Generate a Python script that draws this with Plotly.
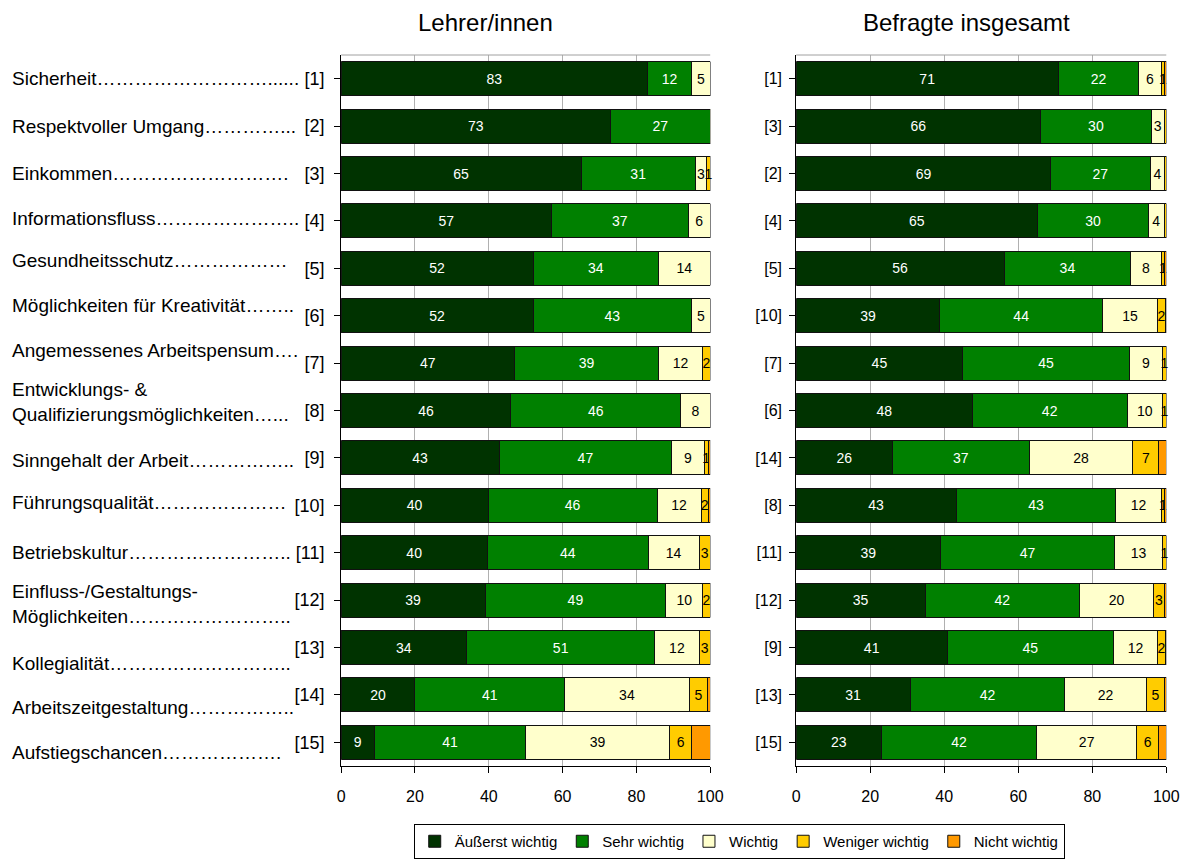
import plotly.graph_objects as go

# ---------------- data ----------------
names = [
    "Sicherheit………………………......",
    "Respektvoller Umgang…………...",
    "Einkommen……………………….",
    "Informationsfluss…………………..",
    "Gesundheitsschutz………………",
    "Möglichkeiten für Kreativität……..",
    "Angemessenes Arbeitspensum….",
    "Entwicklungs- &<br>Qualifizierungsmöglichkeiten…...",
    "Sinngehalt der Arbeit……………..",
    "Führungsqualität…………………",
    "Betriebskultur……………………..",
    "Einfluss-/Gestaltungs-<br>Möglichkeiten……………………..",
    "Kollegialität………………………..",
    "Arbeitszeitgestaltung……………..",
    "Aufstiegschancen……………….",
]
left_ranks = ["[1]", "[2]", "[3]", "[4]", "[5]", "[6]", "[7]", "[8]", "[9]", "[10]",
              "[11]", "[12]", "[13]", "[14]", "[15]"]
right_ranks = ["[1]", "[3]", "[2]", "[4]", "[5]", "[10]", "[7]", "[6]", "[14]", "[8]",
               "[11]", "[12]", "[9]", "[13]", "[15]"]

series_names = ["Äußerst wichtig", "Sehr wichtig", "Wichtig", "Weniger wichtig", "Nicht wichtig"]
colors = ["#003300", "#008000", "#FFFFCC", "#FFCC00", "#FF9900"]
text_colors = ["white", "white", "black", "black", "black"]

# Lehrer/innen (estimated underlying percentages; labels show rounded values)
l_aeusserst = [83, 73, 65, 57, 52, 52, 47, 46, 42.8, 39.8, 39.6, 39, 34, 20, 9]
l_sehr      = [12, 27, 31, 37, 34, 43, 39, 46, 46.8, 45.8, 43.6, 49, 51, 40.6, 41]
l_wichtig   = [5, 0.3, 3, 6, 14, 5, 12, 8, 8.8, 12, 13.8, 10, 12, 33.7, 39]
l_weniger   = [0, 0, 1, 0, 0, 0, 2, 0, 1, 1.9, 3, 2, 3, 5, 6]
l_nicht     = [0, 0, 0, 0, 0, 0, 0, 0, 0.6, 0.5, 0, 0, 0, 0.7, 5]

# Befragte insgesamt
r_aeusserst = [70.8, 66, 68.8, 65.2, 56.2, 38.8, 45, 47.6, 26, 43.2, 39, 34.8, 40.8, 30.8, 23]
r_sehr      = [21.8, 30, 26.8, 30, 34.2, 44, 45, 41.8, 37, 43.2, 47, 41.8, 44.9, 41.8, 42]
r_wichtig   = [6, 3.4, 4, 4.2, 8.2, 14.9, 9, 9.6, 28, 12.2, 13, 19.9, 12, 22, 27]
r_weniger   = [1, 0.6, 0.4, 0.6, 1, 2, 1, 1, 7, 1, 1, 3, 2, 4.9, 6]
r_nicht     = [0.4, 0, 0, 0, 0.4, 0.3, 0, 0, 2, 0.4, 0, 0.5, 0.3, 0.5, 2]

left_data = [l_aeusserst, l_sehr, l_wichtig, l_weniger, l_nicht]
right_data = [r_aeusserst, r_sehr, r_wichtig, r_weniger, r_nicht]

x_ticks = [0, 20, 40, 60, 80, 100]

# ---------------- layout helpers ----------------
FONT = "Liberation Sans, Arial, sans-serif"
W, H = 1186, 863


def px(X):
    # horizontal pixel -> paper fraction (compensates the slight horizontal
    # squeeze observed in the rendered page)
    return (X - 3.9) / 0.9855 / W


def py(Y):
    return 1 - Y / H


# vertical nudges (px, + = up) of the left name labels
name_shift = [0, 0, 0, 2, 8, 10, 13, 8, -3, 3, 0, -4, -16, -13, -10]

fig = go.Figure()
cats = list(range(len(names)))


def add_panel(data, xa, ya, show_legend, zero_label_cells=()):
    for i, vals in enumerate(data):
        if i == 4:
            txt = ["" for v in vals]
        else:
            txt = [str(int(round(v))) if v >= 0.95 else "" for v in vals]
        for (si, ci) in zero_label_cells:
            if si == i:
                txt[ci] = "0"
        fig.add_trace(go.Bar(
            x=vals, y=cats, orientation="h", name=series_names[i],
            marker=dict(color=colors[i], line=dict(color="#111111", width=1)),
            text=txt, textposition="inside", insidetextanchor="middle",
            textangle=0, constraintext="none",
            textfont=dict(color=text_colors[i], size=14, family=FONT),
            xaxis=xa, yaxis=ya, showlegend=show_legend, width=0.72,
            cliponaxis=False, hoverinfo="x+name",
        ))


add_panel(left_data, "x", "y", True, zero_label_cells=[(2, 1)])
add_panel(right_data, "x2", "y2", False)

ydom = [py(766), py(55)]
xd1 = [px(341), px(710)]
xd2 = [px(796), px(1166)]

axis_common_x = dict(
    range=[0, 100], tickvals=x_ticks, showgrid=True, gridcolor="#b0b0b0", gridwidth=1,
    showline=True, linecolor="black", linewidth=1, ticks="outside", ticklen=6,
    tickcolor="black", tickfont=dict(size=16, family=FONT, color="black"),
    ticklabelstandoff=10, zeroline=False, fixedrange=True,
)
axis_common_y = dict(
    range=[14.5, -0.5], tickvals=cats, showgrid=False, showline=True, linecolor="black",
    linewidth=1, ticks="outside", ticklen=6, tickcolor="black", tickson="boundaries",
    zeroline=False, fixedrange=True,
)

fig.update_layout(
    width=W, height=H, barmode="stack",
    margin=dict(l=0, r=0, t=0, b=0),
    paper_bgcolor="white", plot_bgcolor="white",
    font=dict(family=FONT, color="black"),
    xaxis=dict(domain=xd1, anchor="y", **axis_common_x),
    yaxis=dict(domain=ydom, anchor="x", ticktext=left_ranks, ticklabelstandoff=6,
               tickfont=dict(size=18, family=FONT, color="black"), **axis_common_y),
    xaxis2=dict(domain=xd2, anchor="y2", **axis_common_x),
    yaxis2=dict(domain=ydom, anchor="x2", ticktext=right_ranks, ticklabelstandoff=4,
                tickfont=dict(size=16, family=FONT, color="black"), **axis_common_y),
    legend=dict(
        orientation="h", x=px(739), xanchor="center", y=py(824), yanchor="top",
        bordercolor="black", borderwidth=1, font=dict(size=15, family=FONT),
        itemwidth=30, tracegroupgap=0, traceorder="normal",
    ),
    showlegend=True,
)

# top gray border lines
for xr, yr in [("x domain", "y domain"), ("x2 domain", "y2 domain")]:
    fig.add_shape(type="line", xref=xr, yref=yr, x0=0, x1=1, y0=1, y1=1,
                  line=dict(color="#a0a0a0", width=1))

# titles
fig.add_annotation(text="Lehrer/innen", x=px(485), y=py(22), xref="paper", yref="paper",
                   showarrow=False, font=dict(size=24, family=FONT), xanchor="center", yanchor="middle")
fig.add_annotation(text="Befragte insgesamt", x=px(966), y=py(22), xref="paper", yref="paper",
                   showarrow=False, font=dict(size=24, family=FONT), xanchor="center", yanchor="middle")

# category names on the left
for i, n in enumerate(names):
    fig.add_annotation(text=n, x=px(10), y=i, xref="paper", yref="y", showarrow=False,
                       xanchor="left", yanchor="middle", align="left", yshift=name_shift[i],
                       font=dict(size=19, family=FONT, color="black"))

fig.write_html(
    "out.html",
    config={"displayModeBar": False},
    post_script=(
        "document.body.style.margin='0';"
        "document.body.style.overflow='hidden';"
        "document.documentElement.style.overflow='hidden';"
    ),
)
